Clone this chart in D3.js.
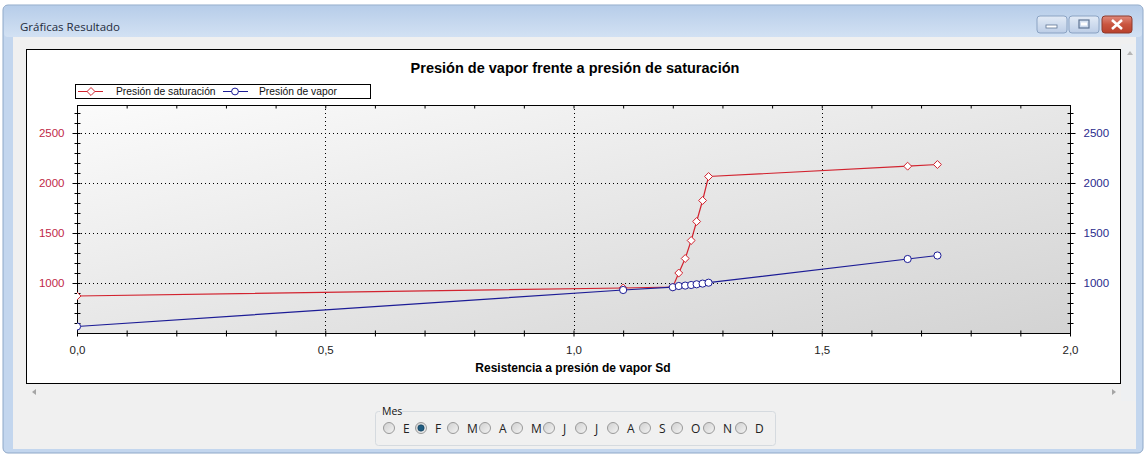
<!DOCTYPE html>
<html>
<head>
<meta charset="utf-8">
<script src="https://cdn.jsdelivr.net/npm/d3@7"></script>
<style>
  html, body { margin: 0; padding: 0; background: #fff; }
  svg { display: block; font-family: "Liberation Sans", Arial, sans-serif; }
</style>
</head>
<body>
<div id="chart"></div>
<script>
// datos
const sd = [0, 1.10, 1.20, 1.212, 1.225, 1.237, 1.248, 1.26, 1.272, 1.673, 1.733];
const presionSaturacion = [870, 950, 960, 1100, 1245, 1425, 1615, 1825, 2065, 2168, 2185];
const presionVapor = [565, 930, 958, 970, 974, 980, 987, 994, 1003, 1240, 1275];
const yTicks = [1000, 1500, 2000, 2500];
const xTicks = [0, 0.5, 1.0, 1.5, 2.0];
const meses = ["E", "F", "M", "A", "M", "J", "J", "A", "S", "O", "N", "D"];
const mesSeleccionado = 1;

const W = 1144, H = 454;
const plot = { left: 77, right: 1070, top: 105, bottom: 333 };

const svg = d3.select("#chart").append("svg")
    .attr("width", W)
    .attr("height", H);

const defs = svg.append("defs");

function linGrad(id, stops, x2 = 0, y2 = 1) {
    const g = defs.append("linearGradient").attr("id", id)
        .attr("x1", 0).attr("y1", 0).attr("x2", x2).attr("y2", y2);
    stops.forEach(s => g.append("stop").attr("offset", s[0]).attr("stop-color", s[1]));
}
linGrad("titleGrad", [[0, "#b7cde9"], [1, "#d2e1f3"]]);
linGrad("plotGrad", [[0, "#fbfbfb"], [1, "#d3d3d3"]], 1, 1);
linGrad("btnGrad", [[0, "#e3ebf6"], [0.5, "#cfdcee"], [1, "#bccde6"]]);
linGrad("closeGrad", [[0, "#e08a7c"], [0.5, "#c9553f"], [1, "#b8402c"]]);
linGrad("radioGrad", [[0, "#cfcfcf"], [1, "#f4f4f4"]], 1, 1);
defs.append("clipPath").attr("id", "plotClip")
    .append("rect")
    .attr("x", plot.left).attr("y", plot.top)
    .attr("width", plot.right - plot.left).attr("height", plot.bottom - plot.top);

// ---- ventana ----
svg.append("rect").attr("x", 3).attr("y", 5).attr("width", 1140).attr("height", 448)
    .attr("rx", 5).attr("fill", "#c3d6ee").attr("stroke", "#8ea8c8");
svg.append("rect").attr("x", 4).attr("y", 6).attr("width", 1138).attr("height", 31)
    .attr("rx", 4).attr("fill", "url(#titleGrad)");
svg.append("rect").attr("x", 13).attr("y", 37).attr("width", 1123).attr("height", 412)
    .attr("fill", "#f0f0f0");
svg.append("text").attr("x", 20).attr("y", 31)
    .style("font-family", "'Open Sans', 'Noto Sans', sans-serif")
    .style("font-size", "11.5px").attr("fill", "#1e2b3c")
    .text("Gráficas Resultado");

// botones de la ventana
const botones = [
    { x: 1037, w: 30, grad: "url(#btnGrad)", stroke: "#8ba3c3" },
    { x: 1069, w: 30, grad: "url(#btnGrad)", stroke: "#8ba3c3" },
    { x: 1102, w: 30, grad: "url(#closeGrad)", stroke: "#8e3a2c" }
];
svg.selectAll("rect.btn").data(botones).enter().append("rect")
    .attr("class", "btn")
    .attr("x", d => d.x).attr("y", 16).attr("width", d => d.w).attr("height", 17)
    .attr("rx", 3).attr("fill", d => d.grad).attr("stroke", d => d.stroke);
svg.append("rect").attr("x", 1046).attr("y", 25).attr("width", 11).attr("height", 3)
    .attr("fill", "#fff").attr("stroke", "#5f7594").attr("stroke-width", 0.8);
svg.append("rect").attr("x", 1079).attr("y", 20).attr("width", 10).attr("height", 8)
    .attr("fill", "none").attr("stroke", "#5f7594").attr("stroke-width", 1.2);
svg.append("rect").attr("x", 1081).attr("y", 22.5).attr("width", 6).attr("height", 3)
    .attr("fill", "#fff");
svg.append("path").attr("d", "M1112,20 L1122,29 M1122,20 L1112,29")
    .attr("stroke", "#fff").attr("stroke-width", 2.6);

// ---- panel de la grafica ----
svg.append("rect").attr("x", 26.5).attr("y", 49.5).attr("width", 1094).attr("height", 334)
    .attr("fill", "#fff").attr("stroke", "#000");
svg.append("rect").attr("x", 1121).attr("y", 44).attr("width", 15).attr("height", 357)
    .attr("fill", "#eef0f2");
svg.append("path").attr("d", "M1127,55 L1130,51 L1133,55 Z").attr("fill", "#b5b5b5");
svg.append("path").attr("d", "M36,389 L32,392 L36,395 Z").attr("fill", "#a5a5a5");
svg.append("path").attr("d", "M1112,389 L1116,392 L1112,395 Z").attr("fill", "#a5a5a5");

svg.append("text").attr("x", 575).attr("y", 73)
    .attr("text-anchor", "middle")
    .style("font-size", "14.5px").style("font-weight", "bold")
    .text("Presión de vapor frente a presión de saturación");

// escalas
const x = d3.scaleLinear().domain([0, 2]).range([plot.left, plot.right]);
const y = d3.scaleLinear().domain([500, 2780]).range([plot.bottom, plot.top]);

const es = d3.formatLocale({ decimal: ",", thousands: ".", grouping: [3], currency: ["", "€"] });
const fmtX = es.format(".1f");

svg.append("rect")
    .attr("x", plot.left).attr("y", plot.top)
    .attr("width", plot.right - plot.left).attr("height", plot.bottom - plot.top)
    .attr("fill", "url(#plotGrad)");

// rejilla punteada
svg.append("g").selectAll("line").data(yTicks).enter().append("line")
    .attr("x1", plot.left).attr("x2", plot.right)
    .attr("y1", d => Math.round(y(d)) + 0.5).attr("y2", d => Math.round(y(d)) + 0.5)
    .attr("stroke", "#000").attr("stroke-dasharray", "1,3");
svg.append("g").selectAll("line").data([0.5, 1.0, 1.5]).enter().append("line")
    .attr("x1", d => Math.round(x(d)) + 0.5).attr("x2", d => Math.round(x(d)) + 0.5)
    .attr("y1", plot.top).attr("y2", plot.bottom)
    .attr("stroke", "#000").attr("stroke-dasharray", "1,3");

// ejes
const minorY = d3.range(600, 2800, 100).filter(v => !yTicks.includes(v));
const minorX = d3.range(0, 21).map(v => v / 10).filter(v => !xTicks.includes(v));

function ejeY(axisFn, xpos, color, inner) {
    const g = svg.append("g").attr("transform", `translate(${xpos + 0.5},0)`);
    g.call(axisFn(y).tickValues(yTicks).tickSize(5).tickPadding(8).tickFormat(d3.format("d")));
    g.selectAll(".tick line").attr("x1", inner);
    g.selectAll(".tick text").attr("fill", color).style("font-size", "11.5px")
        .style("font-family", "'Liberation Sans', Arial, sans-serif");
    g.select(".domain").remove();
    const m = svg.append("g").attr("transform", `translate(${xpos + 0.5},0)`);
    m.call(axisFn(y).tickValues(minorY).tickSize(3).tickFormat(""));
    m.selectAll(".tick line").attr("x1", inner);
    m.select(".domain").remove();
    svg.append("line").attr("x1", xpos + 0.5).attr("x2", xpos + 0.5)
        .attr("y1", plot.top).attr("y2", plot.bottom + 3).attr("stroke", "#000");
}
ejeY(d3.axisLeft, plot.left, "#c02848", 3);
ejeY(d3.axisRight, plot.right, "#2a2a8c", -3);

const gx = svg.append("g").attr("transform", `translate(0,${plot.bottom + 0.5})`);
gx.call(d3.axisBottom(x).tickValues(xTicks).tickSize(3).tickPadding(9).tickFormat(fmtX));
gx.selectAll(".tick line").attr("y1", -3);
gx.selectAll(".tick text").style("font-size", "11.5px").attr("fill", "#222")
    .style("font-family", "'Liberation Sans', Arial, sans-serif");
gx.select(".domain").remove();
const gxm = svg.append("g").attr("transform", `translate(0,${plot.bottom + 0.5})`);
gxm.call(d3.axisBottom(x).tickValues(minorX).tickSize(3).tickFormat(""));
gxm.selectAll(".tick line").attr("y1", -3);
gxm.select(".domain").remove();
svg.append("line").attr("x1", plot.left).attr("x2", plot.right + 1)
    .attr("y1", plot.bottom + 0.5).attr("y2", plot.bottom + 0.5).attr("stroke", "#000");

// borde superior con marcas
const gt = svg.append("g").attr("transform", `translate(0,${plot.top + 0.5})`);
gt.call(d3.axisBottom(x).tickValues(d3.range(0, 21).map(v => v / 10)).tickSize(3).tickFormat(""));
gt.select(".domain").remove();
svg.append("line").attr("x1", plot.left).attr("x2", plot.right + 1)
    .attr("y1", plot.top + 0.5).attr("y2", plot.top + 0.5).attr("stroke", "#000");

svg.append("text").attr("x", 573).attr("y", 372)
    .attr("text-anchor", "middle")
    .style("font-size", "12px").style("font-weight", "bold")
    .text("Resistencia a presión de vapor Sd");

// series
const series = [
    { name: "Presión de saturación", values: presionSaturacion, color: "#d2232f", marker: "diamond" },
    { name: "Presión de vapor", values: presionVapor, color: "#1c1c96", marker: "circle" }
];
const line = d3.line().x(d => x(d[0])).y(d => y(d[1]));
const diamond = d3.symbol().type(d3.symbolDiamond2).size(40);

const gSeries = svg.append("g").attr("clip-path", "url(#plotClip)");
series.forEach(s => {
    const pts = sd.map((v, i) => [v, s.values[i]]);
    gSeries.append("path").datum(pts)
        .attr("d", line).attr("fill", "none")
        .attr("stroke", s.color).attr("stroke-width", 1.2);
    if (s.marker === "diamond") {
        gSeries.selectAll(null).data(pts).enter().append("path")
            .attr("d", diamond)
            .attr("transform", d => `translate(${x(d[0])},${y(d[1])})`)
            .attr("fill", "#fff").attr("stroke", s.color).attr("stroke-width", 1);
    } else {
        gSeries.selectAll(null).data(pts).enter().append("circle")
            .attr("cx", d => x(d[0])).attr("cy", d => y(d[1])).attr("r", 3.6)
            .attr("fill", "#fff").attr("stroke", s.color).attr("stroke-width", 1);
    }
});

// leyenda
const leg = svg.append("g");
leg.append("rect").attr("x", 75.5).attr("y", 84.5).attr("width", 295).attr("height", 14)
    .attr("fill", "#fff").attr("stroke", "#000");
const legPos = [{ x0: 78, text: 116 }, { x0: 223, text: 259 }];
series.forEach((s, i) => {
    const p = legPos[i];
    leg.append("line").attr("x1", p.x0).attr("x2", p.x0 + 25).attr("y1", 91.5).attr("y2", 91.5)
        .attr("stroke", s.color).attr("stroke-width", 1);
    if (s.marker === "diamond") {
        leg.append("path").attr("d", diamond)
            .attr("transform", `translate(${p.x0 + 13},91.5)`)
            .attr("fill", "#fff").attr("stroke", s.color);
    } else {
        leg.append("circle").attr("cx", p.x0 + 12).attr("cy", 91.5).attr("r", 3.4)
            .attr("fill", "#fff").attr("stroke", s.color);
    }
    leg.append("text").attr("x", p.text).attr("y", 95)
        .style("font-size", "10.3px").attr("fill", "#111").text(s.name);
});

// ---- selector de mes ----
const grupo = svg.append("g");
grupo.append("rect").attr("x", 375.5).attr("y", 411.5).attr("width", 400).attr("height", 34)
    .attr("rx", 3).attr("fill", "none").attr("stroke", "#d5dadf");
grupo.append("rect").attr("x", 380).attr("y", 405).attr("width", 22).attr("height", 12)
    .attr("fill", "#f0f0f0");
grupo.append("text").attr("x", 382).attr("y", 415)
    .style("font-family", "'Open Sans', 'Noto Sans', sans-serif")
    .style("font-size", "10.5px").attr("fill", "#111").text("Mes");

const rx = d3.scaleLinear().domain([0, 11]).range([389, 741]);
const radios = grupo.selectAll("g.radio").data(meses).enter().append("g")
    .attr("class", "radio")
    .attr("transform", (d, i) => `translate(${rx(i)},428)`);
radios.append("circle").attr("r", 5.5)
    .attr("fill", "url(#radioGrad)").attr("stroke", "#9a9a9a");
radios.filter((d, i) => i === mesSeleccionado).append("circle").attr("r", 3.2)
    .attr("fill", "#1f5c80").attr("stroke", "#123b55").attr("stroke-width", 0.6);
radios.append("text").attr("x", 14).attr("y", 4.5)
    .style("font-family", "'Open Sans', 'Noto Sans', sans-serif")
    .style("font-size", "12px").attr("fill", "#222").text(d => d);
</script>
</body>
</html>
